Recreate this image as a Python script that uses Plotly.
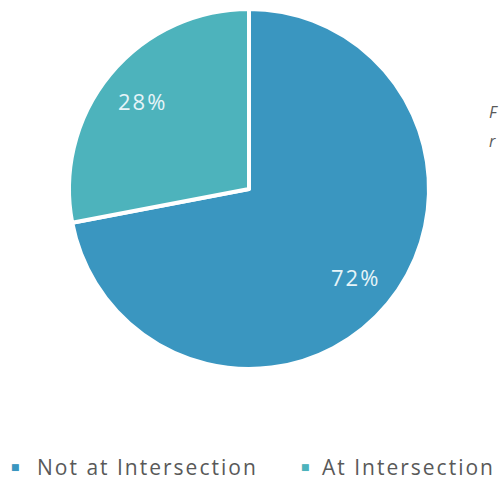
import math
import plotly.graph_objects as go

labels = ["Not at Intersection", "At Intersection"]
values = [72, 28]
colors = ["#3A96C0", "#4DB3BC"]
side_text = ["F", "r"]

W, H = 499, 483
cx, cy, r = 249, 189, 180

fig = go.Figure()
fig.add_trace(go.Pie(
    labels=labels, values=values, sort=False, direction="clockwise", rotation=0,
    marker=dict(colors=colors, line=dict(color="white", width=4)),
    textinfo="none",
    domain=dict(x=[(cx - r) / W, (cx + r) / W], y=[(H - cy - r) / H, (H - cy + r) / H]),
    showlegend=False, hoverinfo="label+percent",
))

annotations = []
# percentage labels placed along slice bisectors
total = sum(values)
start = 0.0
for v in values:
    frac = v / total
    mid = (start + frac / 2) * 2 * math.pi  # clockwise from top
    start += frac
    d = 0.77 * r
    px = cx + d * math.sin(mid)
    py = cy - d * math.cos(mid)
    annotations.append(dict(x=px / W, y=(H - py) / H, xref="paper", yref="paper",
                            text='<span style="letter-spacing:2px">%d%%</span>' % round(frac * 100),
                            showarrow=False, xanchor="center", yanchor="middle",
                            font=dict(family="Open Sans", size=22, color="#E6F4F8")))

# custom legend
leg_y = (H - 467) / H
marker_x = [15, 305]
text_x = [35, 320]
for lab, col, mx, tx in zip(labels, colors, marker_x, text_x):
    annotations.append(dict(x=mx / W, y=leg_y, xref="paper", yref="paper", text="■",
                            showarrow=False, xanchor="center", yanchor="middle",
                            font=dict(family="DejaVu Sans", size=9, color=col)))
    annotations.append(dict(x=tx / W, y=leg_y, xref="paper", yref="paper",
                            text='<span style="letter-spacing:2px">' + lab + '</span>',
                            showarrow=False, xanchor="left", yanchor="middle",
                            font=dict(family="Open Sans", size=21, color="#595959")))
for t, yy in zip(side_text, [112, 141]):
    annotations.append(dict(x=487 / W, y=(H - yy) / H, xref="paper", yref="paper",
                            text="<i>" + t + "</i>", showarrow=False, xanchor="left",
                            yanchor="middle",
                            font=dict(family="Open Sans", size=16, color="#595959")))

fig.update_layout(width=W, height=H, margin=dict(l=0, r=0, t=0, b=0),
                  paper_bgcolor="white", plot_bgcolor="white",
                  annotations=annotations)
fig.write_html("out.html")
